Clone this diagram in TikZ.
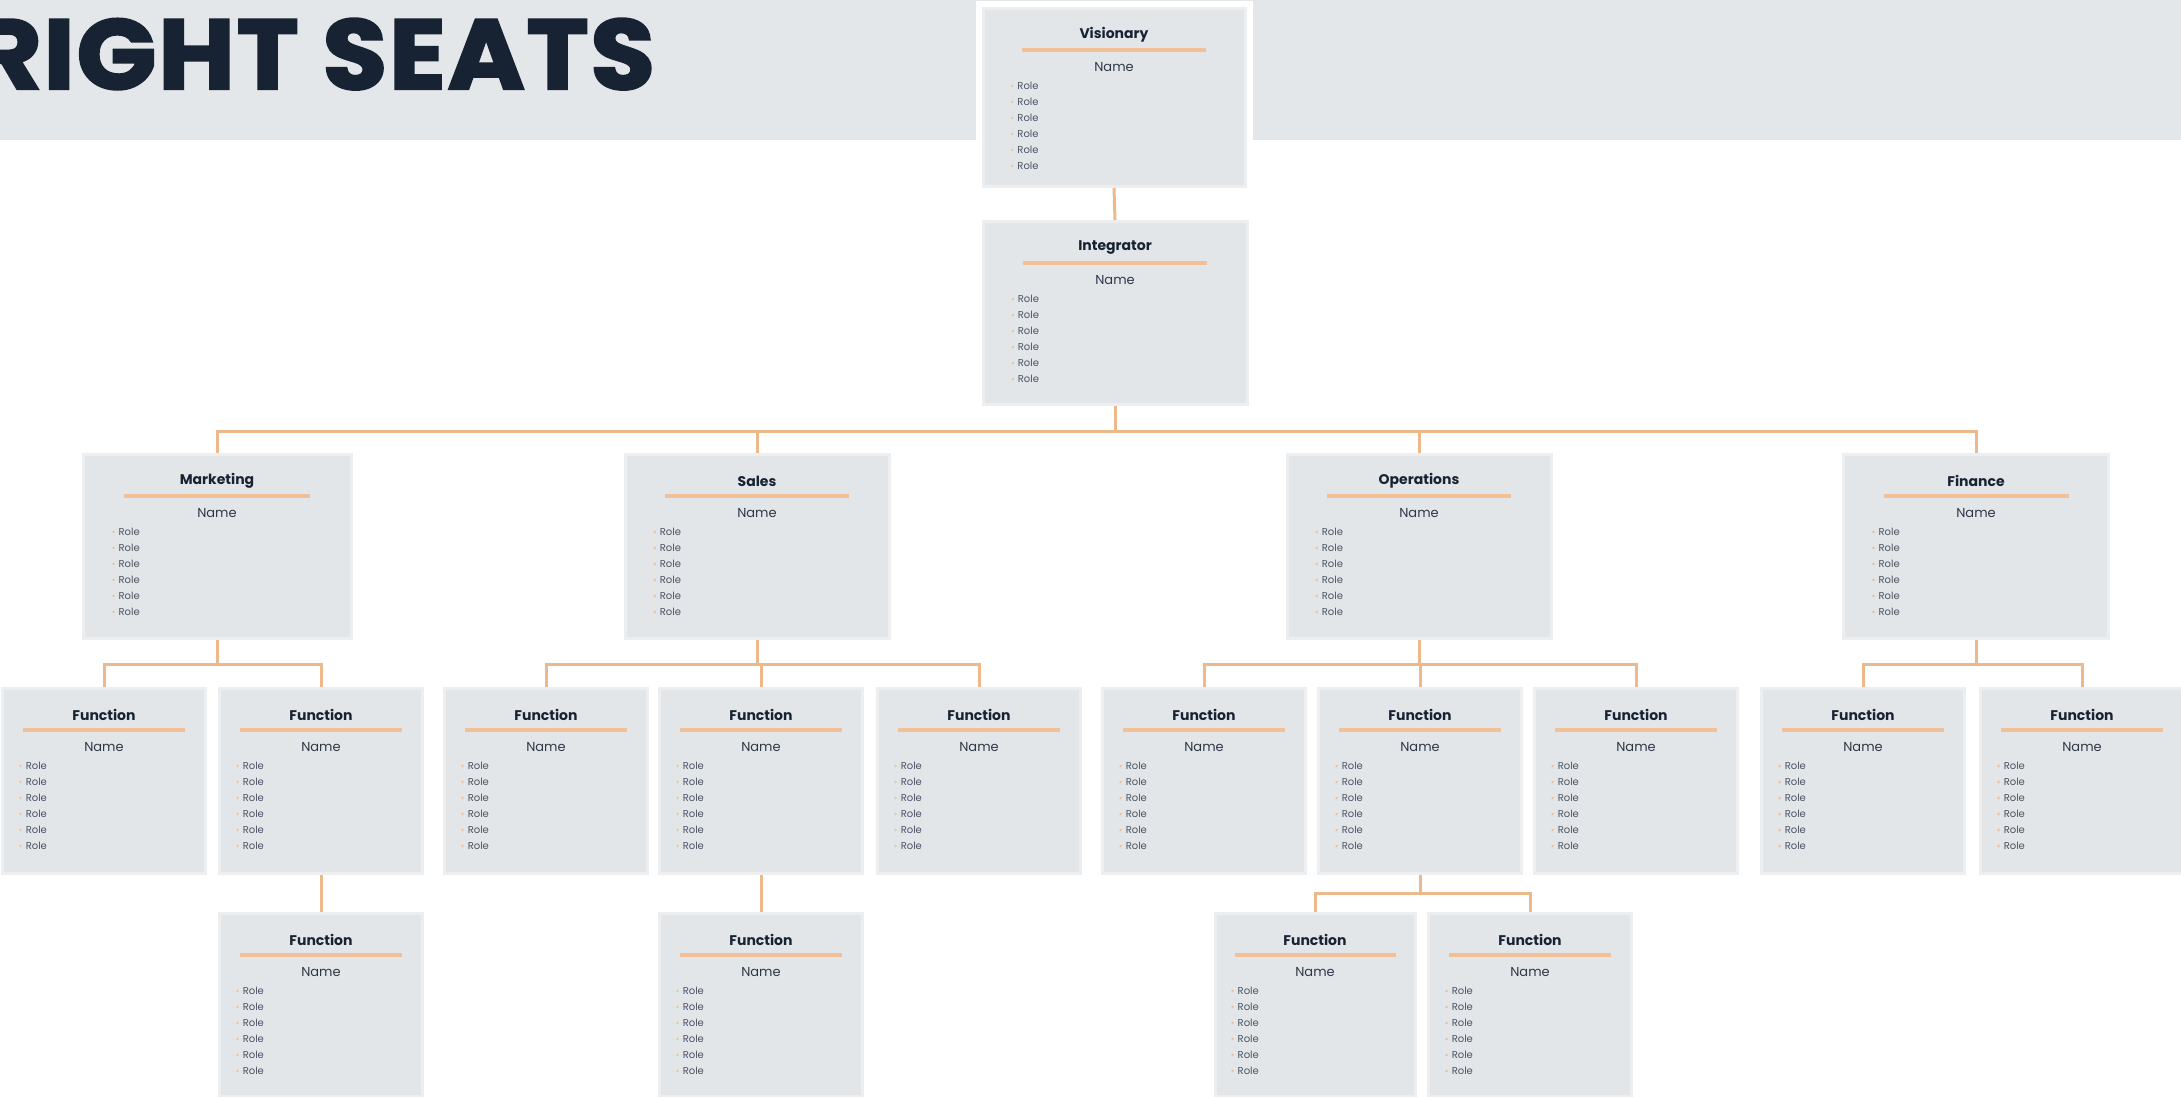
\documentclass[tikz,border=0pt]{standalone}
\usepackage{fontspec}
\setmainfont{Poppins}
\usetikzlibrary{calc,shadows}
\definecolor{banner}{HTML}{E3E7EA}
\definecolor{cardfill}{HTML}{E3E6E9}
\definecolor{cardrim}{HTML}{ECEEF0}
\definecolor{navy}{HTML}{172233}
\definecolor{peach}{HTML}{F2C096}
\definecolor{wire}{HTML}{EDB88A}
\definecolor{ink}{HTML}{4C5463}
\tikzset{
card/.style={rectangle, fill=cardfill, draw=cardrim, line width=3pt, inner sep=0pt,
    minimum width=#1, drop shadow={shadow xshift=1.5pt, shadow yshift=-1.5pt, opacity=.3, fill=black!35}},
vcard/.style={preaction={draw=white, line width=15pt}, card=#1},
cardtitle/.style={font=\fontsize{14}{16}\selectfont\bfseries, text=navy, inner sep=0pt},
cardname/.style={font=\fontsize{13}{15}\selectfont, text=navy!90, inner sep=0pt},
cardrole/.style={font=\fontsize{10}{12}\selectfont, text=ink, inner sep=0pt, anchor=west},
cardrule/.style={draw=peach, line width=4pt},
link/.style={draw=wire, line width=3pt}
}
\newcommand{\orgcard}[7][card]{%
  \node[#1=#5, minimum height=#6, anchor=north] (#2) at (#3,#4) {};
  \pgfmathsetmacro{\rulehalf}{0.185*#5+43.5}
  \pgfmathsetmacro{\bulletx}{0.19*#5-19}
  \node[cardtitle] (#2_t) at ($(#2.north)+(0,28)$) {#7};
  \draw[cardrule] ($(#2.north)+(-\rulehalf,43)$) -- ($(#2.north)+(\rulehalf,43)$);
  \node[cardname] (#2_n) at ($(#2.north)+(0,60)$) {Name};
  \foreach \k in {0,...,5}{
    \fill[peach] ($(#2.north west)+(\bulletx,79+16*\k)$) circle (1.4);
    \node[cardrole] (#2_r\k) at ($(#2.north west)+(\bulletx+5,79+16*\k)$) {Role};
  }
}

\begin{document}
\begin{tikzpicture}[x=1pt, y=-1pt]
	\useasboundingbox (0,0) rectangle (2181,1096);
	\fill[banner] (0,0) rectangle (2181,140);
	\node[font=\fontsize{99}{99}\selectfont\bfseries\addfontfeatures{FakeBold=2.5, LetterSpace=2}, text=navy, anchor=base east, inner sep=0pt] (title) at (655,89) {\scalebox{1.055}[1]{RIGHT SEATS}};

	\orgcard[vcard]{V}{1114}{7}{262}{178}{Visionary}
	\orgcard{I}{1115}{220}{264}{183}{Integrator}

	\orgcard{M}{217}{453}{268}{184}{Marketing}
	\orgcard{S}{757}{453}{264}{184}{Sales}
	\orgcard{O}{1419}{453}{264}{184}{Operations}
	\orgcard{F}{1976}{453}{265}{184}{Finance}

	\orgcard{M_1}{104}{687}{203}{185}{Function}
	\orgcard{M_2}{321}{687}{203}{185}{Function}
	\orgcard{S_1}{546}{687}{203}{185}{Function}
	\orgcard{S_2}{761}{687}{203}{185}{Function}
	\orgcard{S_3}{979}{687}{203}{185}{Function}
	\orgcard{O_1}{1204}{687}{203}{185}{Function}
	\orgcard{O_2}{1420}{687}{203}{185}{Function}
	\orgcard{O_3}{1636}{687}{203}{185}{Function}
	\orgcard{F_1}{1863}{687}{203}{185}{Function}
	\orgcard{F_2}{2082}{687}{203}{185}{Function}

	\orgcard{M_3}{321}{912}{203}{183}{Function}
	\orgcard{S_4}{761}{912}{203}{183}{Function}
	\orgcard{O_4}{1315}{912}{200}{183}{Function}
	\orgcard{O_5}{1530}{912}{203}{183}{Function}

	\draw[link] (V.south) -- (I.north);
	\draw[link] (I.south) -- ++(0,25) -| (M.north);
	\draw[link] (I.south) -- ++(0,25) -| (S.north);
	\draw[link] (I.south) -- ++(0,25) -| (O.north);
	\draw[link] (I.south) -- ++(0,25) -| (F.north);

	\draw[link] (M.south) -- ++(0,24) -| (M_1.north);
	\draw[link] (M.south) -- ++(0,24) -| (M_2.north);
	\draw[link] (S.south) -- ++(0,24) -| (S_1.north);
	\draw[link] (S.south) -- ++(0,24) -| (S_2.north);
	\draw[link] (S.south) -- ++(0,24) -| (S_3.north);
	\draw[link] (O.south) -- ++(0,24) -| (O_1.north);
	\draw[link] (O.south) -- ++(0,24) -| (O_2.north);
	\draw[link] (O.south) -- ++(0,24) -| (O_3.north);
	\draw[link] (F.south) -- ++(0,24) -| (F_1.north);
	\draw[link] (F.south) -- ++(0,24) -| (F_2.north);

	\draw[link] (M_2.south) -- (M_3.north);
	\draw[link] (S_2.south) -- (S_4.north);
	\draw[link] (O_2.south) -- ++(0,18) -| (O_4.north);
	\draw[link] (O_2.south) -- ++(0,18) -| (O_5.north);

\end{tikzpicture}
\end{document}
